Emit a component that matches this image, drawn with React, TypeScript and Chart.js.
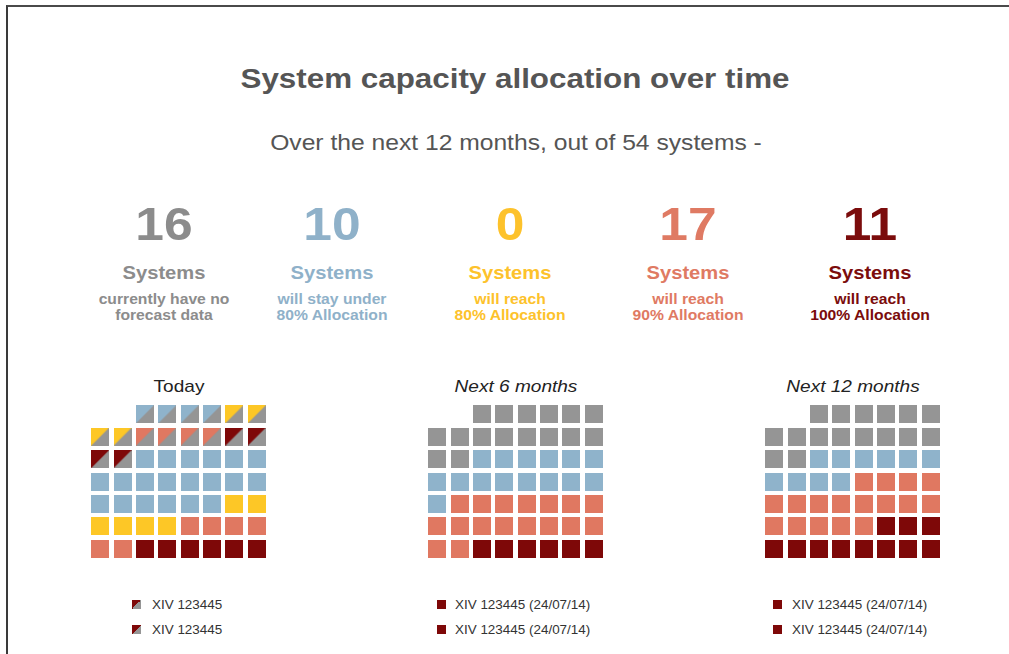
import React, { useEffect, useRef } from 'react';
import { Chart, registerables } from 'chart.js';

Chart.register(...registerables);

// ---------- data ----------
const TITLE = 'System capacity allocation over time';
const SUBTITLE = 'Over the next 12 months, out of 54 systems -';

const STAT_VALUES = [16, 10, 0, 17, 11];
const STAT_LINE1 = ['currently have no', 'will stay under', 'will reach', 'will reach', 'will reach'];
const STAT_LINE2 = ['forecast data', '80% Allocation', '80% Allocation', '90% Allocation', '100% Allocation'];
const STAT_COLORS = ['#8c8c8c', '#8fb1c9', '#fdc22b', '#df7a63', '#7b0c0c'];
const STAT_X = [164, 332, 510, 688, 870];

const PANEL_TITLES = ['Today', 'Next 6 months', 'Next 12 months'];
const PANEL_ITALIC = [false, true, true];

// cells in reading order (top-left → bottom-right); "X/G" = colour over grey split
const TODAY_CODES = ['B/G', 'Y/G', 'S/G', 'D/G', 'B', 'Y', 'S', 'D'];
const TODAY_COUNTS = [4, 4, 4, 4, 20, 6, 6, 6];
const NEXT6_CODES = ['G', 'B', 'S', 'D'];
const NEXT6_COUNTS = [16, 15, 17, 6];
const NEXT12_CODES = ['G', 'B', 'S', 'D'];
const NEXT12_COUNTS = [16, 10, 17, 11];

const LEGEND_LABELS = [
  ['XIV 123445', 'XIV 123445'],
  ['XIV 123445 (24/07/14)', 'XIV 123445 (24/07/14)'],
  ['XIV 123445 (24/07/14)', 'XIV 123445 (24/07/14)'],
];
const LEGEND_CODES = ['D/G', 'D', 'D'];

// ---------- styling ----------
const CELL_COLORS: Record<string, string> = {
  G: '#959595',
  B: '#8fb3cb',
  Y: '#fdc726',
  S: '#e07861',
  D: '#7e0808',
};
const GRID_COLS = 8;
const GRID_ROWS = 7;
const EMPTY_LEAD = 2;
const CELL = 18;
const CANVAS_W = 179;
const CANVAS_H = 157;
const PANEL_LEFT = [89, 426, 763];
const PANEL_CENTER = [178.5, 515.5, 852.5];
const PANEL_TOP = 403;
const FONT = "'Liberation Sans', Arial, Helvetica, sans-serif";
const SX = 1.12;

function makeCell(code: string): HTMLCanvasElement {
  const c = document.createElement('canvas');
  c.width = CELL;
  c.height = CELL;
  const ctx = c.getContext('2d')!;
  if (code.includes('/')) {
    const [a, b] = code.split('/');
    ctx.fillStyle = CELL_COLORS[b];
    ctx.fillRect(0, 0, CELL, CELL);
    ctx.fillStyle = CELL_COLORS[a];
    ctx.beginPath();
    ctx.moveTo(0, 0);
    ctx.lineTo(CELL, 0);
    ctx.lineTo(0, CELL);
    ctx.closePath();
    ctx.fill();
  } else {
    ctx.fillStyle = CELL_COLORS[code];
    ctx.fillRect(0, 0, CELL, CELL);
  }
  return c;
}

function cssFill(code: string): string {
  if (code.includes('/')) {
    const [a, b] = code.split('/');
    return `linear-gradient(to bottom right, ${CELL_COLORS[a]} 50%, ${CELL_COLORS[b]} 50%)`;
  }
  return CELL_COLORS[code];
}

function Waffle({ codes, counts, left }: { codes: string[]; counts: number[]; left: number }) {
  const ref = useRef<HTMLCanvasElement | null>(null);
  useEffect(() => {
    if (!ref.current) return;
    const datasets = codes.map((code) => ({
      label: code,
      data: [] as { x: number; y: number }[],
      pointStyle: makeCell(code) as any,
      pointRadius: 9,
      pointHoverRadius: 9,
      showLine: false,
    }));
    let idx = 0;
    codes.forEach((code, i) => {
      for (let k = 0; k < counts[i]; k++) {
        const slot = idx + EMPTY_LEAD;
        datasets[i].data.push({ x: (slot % GRID_COLS) + 1, y: Math.floor(slot / GRID_COLS) + 1 });
        idx++;
      }
    });
    const chart = new Chart(ref.current, {
      type: 'scatter',
      data: { datasets },
      options: {
        animation: false,
        responsive: false,
        maintainAspectRatio: false,
        devicePixelRatio: 1,
        events: [],
        layout: { padding: 0, autoPadding: false },
        plugins: { legend: { display: false }, tooltip: { enabled: false }, title: { display: false } },
        scales: {
          x: { display: false, min: 0.5, max: GRID_COLS + 0.5 },
          y: { display: false, min: 0.5, max: GRID_ROWS + 0.5, reverse: true },
        },
      },
    });
    return () => chart.destroy();
  }, []);
  return (
    <canvas
      ref={ref}
      width={CANVAS_W}
      height={CANVAS_H}
      style={{ position: 'absolute', left, top: PANEL_TOP, width: CANVAS_W, height: CANVAS_H }}
    />
  );
}

function Txt({
  x,
  top,
  size,
  color,
  bold,
  italic,
  lh,
  align = 'center',
  children,
}: {
  x: number;
  top: number;
  size: number;
  color: string;
  bold?: boolean;
  italic?: boolean;
  lh?: number;
  align?: 'center' | 'left';
  children: React.ReactNode;
}) {
  return (
    <div
      style={{
        position: 'absolute',
        left: x,
        top,
        transform: align === 'center' ? `translateX(-50%) scaleX(${SX})` : `scaleX(${SX})`,
        transformOrigin: align === 'center' ? 'center' : 'left',
        whiteSpace: 'nowrap',
        fontFamily: FONT,
        fontSize: size,
        lineHeight: `${lh ?? size}px`,
        fontWeight: bold ? 700 : 400,
        fontStyle: italic ? 'italic' : 'normal',
        color,
        textAlign: 'center',
      }}
    >
      {children}
    </div>
  );
}

export default function App() {
  const panels = [
    { codes: TODAY_CODES, counts: TODAY_COUNTS },
    { codes: NEXT6_CODES, counts: NEXT6_COUNTS },
    { codes: NEXT12_CODES, counts: NEXT12_COUNTS },
  ];
  const legendIconX = [132, 437, 773];
  const legendTextX = [152, 455, 792];
  return (
    <div
      style={{
        position: 'absolute',
        left: 0,
        top: 0,
        width: 1009,
        height: 654,
        overflow: 'hidden',
        background: '#ffffff',
      }}
    >
      <div
        style={{
          position: 'absolute',
          left: 6,
          top: 5,
          width: 1010,
          height: 660,
          borderTop: '2px solid #4a4a4a',
          borderLeft: '2px solid #3a3a3a',
        }}
      />
      <Txt x={515} top={65} size={28} color="#555555" bold>
        {TITLE}
      </Txt>
      <Txt x={516} top={132} size={22} color="#555555">
        {SUBTITLE}
      </Txt>
      {STAT_VALUES.map((v, i) => (
        <React.Fragment key={i}>
          <Txt x={STAT_X[i]} top={201} size={46} color={STAT_COLORS[i]} bold>
            {String(v)}
          </Txt>
          <Txt x={STAT_X[i]} top={264} size={18} color={STAT_COLORS[i]} bold>
            Systems
          </Txt>
          <Txt x={STAT_X[i]} top={291} size={14} lh={16} color={STAT_COLORS[i]} bold>
            {STAT_LINE1[i]}
            <br />
            {STAT_LINE2[i]}
          </Txt>
        </React.Fragment>
      ))}
      {panels.map((p, i) => (
        <React.Fragment key={i}>
          <Txt x={PANEL_CENTER[i]} top={378} size={17} color="#222222" italic={PANEL_ITALIC[i]}>
            {PANEL_TITLES[i]}
          </Txt>
          <Waffle codes={p.codes} counts={p.counts} left={PANEL_LEFT[i]} />
          {LEGEND_LABELS[i].map((label, j) => (
            <React.Fragment key={j}>
              <div
                style={{
                  position: 'absolute',
                  left: legendIconX[i],
                  top: 600 + j * 25,
                  width: 9,
                  height: 9,
                  background: cssFill(LEGEND_CODES[i]),
                }}
              />
              <Txt x={legendTextX[i]} top={599 + j * 25} size={12} color="#333333" align="left">
                {label}
              </Txt>
            </React.Fragment>
          ))}
        </React.Fragment>
      ))}
    </div>
  );
}
